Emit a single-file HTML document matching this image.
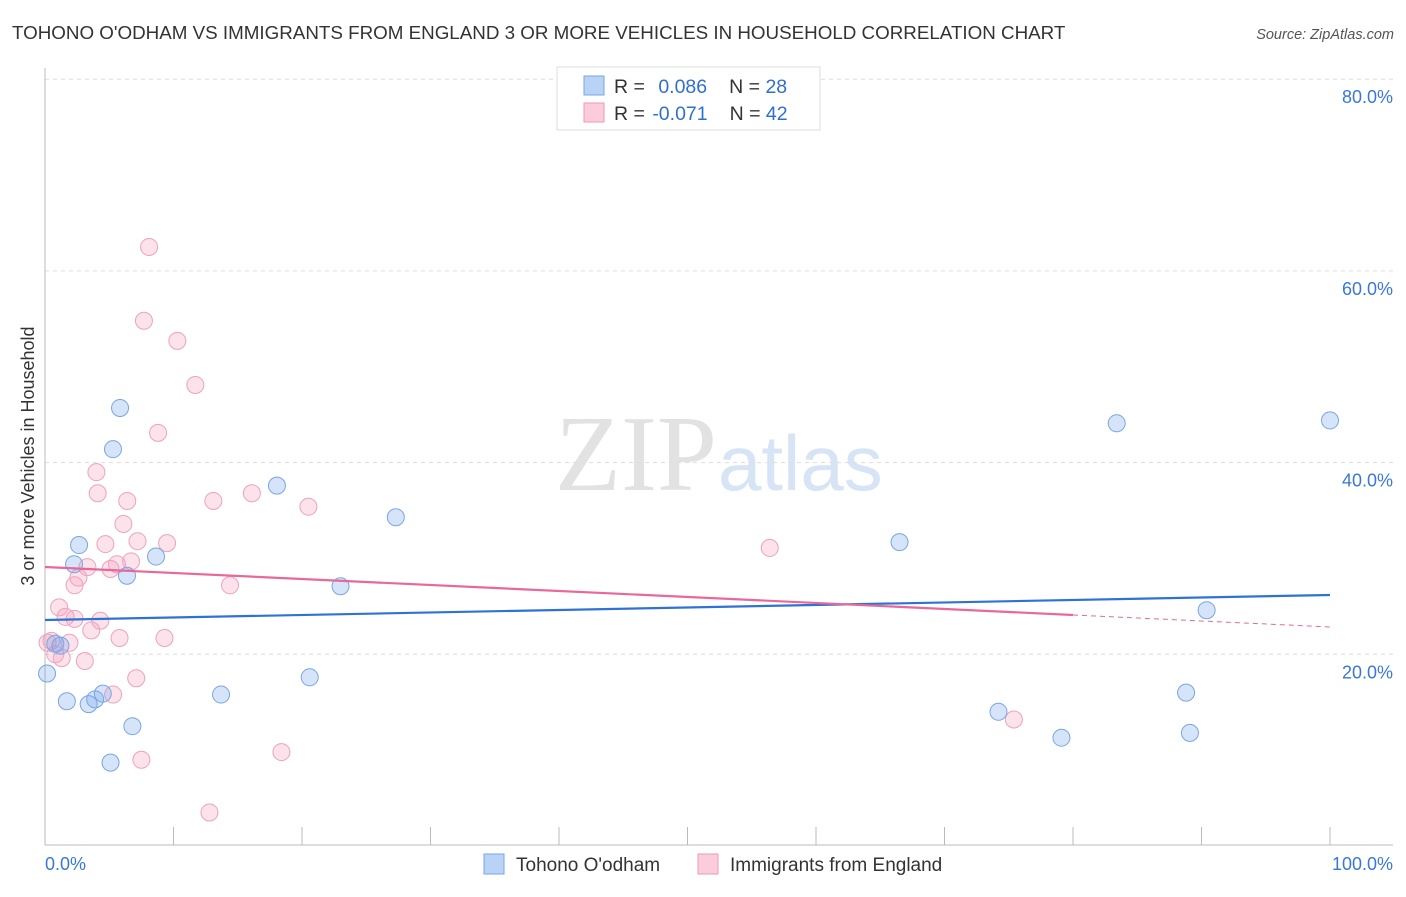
<!DOCTYPE html>
<html><head><meta charset="utf-8"><style>
body{margin:0;background:#fff;font-family:"Liberation Sans",sans-serif}
svg text{font-family:"Liberation Sans",sans-serif}
</style></head><body>
<svg id="c" width="1406" height="892" xmlns="http://www.w3.org/2000/svg">
<text x="12" y="39" font-size="18.8" fill="#333">TOHONO O'ODHAM VS IMMIGRANTS FROM ENGLAND 3 OR MORE VEHICLES IN HOUSEHOLD CORRELATION CHART</text>
<text x="1394" y="39" font-size="14.5" fill="#555" font-style="italic" text-anchor="end">Source: ZipAtlas.com</text>
<text x="555" y="490" font-size="108" fill="#e2e2e2" style="font-family:'Liberation Serif',serif">ZIP</text>
<text x="718" y="490" font-size="78" fill="#d6e4f5">atlas</text>
<text transform="translate(34,456) rotate(-90)" font-size="18" fill="#333" text-anchor="middle">3 or more Vehicles in Household</text>
<g id="grid"></g><g id="pts"></g><g id="trend"></g>
<g>
<rect x="557" y="67" width="263" height="63" fill="#fff" stroke="#ddd"/>
<rect x="584" y="76" width="20" height="19" fill="#b8d3f5" stroke="#7aa6e0"/>
<rect x="584" y="103" width="20" height="19" fill="#fbccd9" stroke="#ee9ab5"/>
<text x="614" y="93" font-size="19.5" fill="#333">R = <tspan fill="#2f6fd0" dx="8">0.086</tspan><tspan fill="#333" dx="22">N = </tspan><tspan fill="#2f6fd0">28</tspan></text>
<text x="614" y="120" font-size="19.5" fill="#333">R = <tspan fill="#2f6fd0" dx="2">-0.071</tspan><tspan fill="#333" dx="22">N = </tspan><tspan fill="#2f6fd0">42</tspan></text>
</g>
<g>
<rect x="484" y="854" width="20" height="20" fill="#b8d3f5" stroke="#7aa6e0"/>
<text x="516" y="871" font-size="19" fill="#333">Tohono O'odham</text>
<rect x="698" y="854" width="20" height="20" fill="#fbccd9" stroke="#ee9ab5"/>
<text x="730" y="871" font-size="19" fill="#333">Immigrants from England</text>
</g>
</svg>
<script>
const blueX=[5.84,5.29,2.65,2.26,6.38,8.64,18.05,27.3,23.0,13.7,20.6,0.16,1.7,3.4,3.9,4.5,6.8,5.1,1.2,0.8,66.5,83.4,100,90.4,74.2,79.1,88.8,89.1];
const blueY=[45.7,41.4,31.4,29.4,28.2,30.2,37.6,34.3,27.1,15.8,17.6,18.0,15.1,14.8,15.3,15.9,12.5,8.7,20.9,21.1,31.7,44.1,44.4,24.6,14.0,11.3,16.0,11.8];
const pinkX=[8.1,7.7,10.3,11.7,8.8,4.0,4.1,6.4,13.1,16.1,20.5,6.1,4.7,7.2,9.5,5.6,6.7,3.3,5.1,2.6,2.3,14.4,1.1,1.6,2.3,4.3,3.6,5.8,9.3,1.9,0.5,0.8,1.3,3.1,7.1,5.3,18.4,7.5,12.8,56.4,75.4,0.2];
const pinkY=[62.5,54.8,52.7,48.1,43.1,39.0,36.8,36.0,36.0,36.8,35.4,33.6,31.5,31.8,31.6,29.4,29.7,29.1,28.9,28.0,27.2,27.2,24.9,23.9,23.7,23.5,22.5,21.7,21.7,21.2,21.4,20.0,19.6,19.3,17.5,15.8,9.8,9.0,3.5,31.1,13.2,21.2];
const blueTrend=[23.58,26.19];
const pinkTrend=[29.11,22.85];
const yTicks=[20,40,60,80];
const yTickLabels=["20.0%","40.0%","60.0%","80.0%"];
const xTicks=[0,10,20,30,40,50,60,70,80,90,100];
const NS="http://www.w3.org/2000/svg";
const sx=v=>45+v*12.85, sy=v=>846-v*9.585;
function mk(t,a,p){const e=document.createElementNS(NS,t);for(const k in a)e.setAttribute(k,a[k]);p.appendChild(e);return e;}
const g=document.getElementById('grid');
yTicks.forEach((v,i)=>{
 const l=mk('line',{x1:45,x2:1393,y1:sy(v),y2:sy(v),stroke:'#ddd','stroke-dasharray':'4,4'},g);
 
 
 const t=mk('text',{x:1393,y:sy(v)+24,'font-size':18,fill:'#3a78d4','text-anchor':'end'},g);t.textContent=yTickLabels[i];
 
 
});
const ya=mk('line',{x1:45,x2:45,y1:68,y2:845,stroke:'#bbb'},g);


const xa=mk('line',{x1:45,x2:1393,y1:845,y2:845,stroke:'#bbb'},g);


xTicks.forEach(v=>{const l=mk('line',{x1:sx(v),x2:sx(v),y1:827,y2:845,stroke:'#bbb'},g);
 
 });
const t0=mk('text',{x:45,y:870,'font-size':18,fill:'#3a78d4'},g);t0.textContent='0.0%';


const t1=mk('text',{x:1393,y:870,'font-size':18,fill:'#3a78d4','text-anchor':'end'},g);t1.textContent='100.0%';


const p=document.getElementById('pts');
pinkX.forEach((x,i)=>{const c=mk('circle',{cx:sx(x),cy:sy(pinkY[i]),r:8.5,fill:'rgba(244,160,188,0.3)',stroke:'#eea2bb','stroke-width':1},p);
 
 });
blueX.forEach((x,i)=>{const c=mk('circle',{cx:sx(x),cy:sy(blueY[i]),r:8.5,fill:'rgba(120,165,235,0.3)',stroke:'#78a6e4','stroke-width':1},p);
 
 });
const tr=document.getElementById('trend');
const bl=mk('line',{x1:sx(0),y1:sy(blueTrend[0]),x2:sx(100),y2:sy(blueTrend[1]),stroke:'#2f72d6','stroke-width':2.2},tr);


const pm=pinkTrend[0]+(pinkTrend[1]-pinkTrend[0])*0.8;
const pl=mk('line',{x1:sx(0),y1:sy(pinkTrend[0]),x2:sx(80),y2:sy(pm),stroke:'#e8689a','stroke-width':2.2},tr);


const pd=mk('line',{x1:sx(80),y1:sy(pm),x2:sx(100),y2:sy(pinkTrend[1]),stroke:'#e8689a','stroke-width':1,'stroke-dasharray':'5,4'},tr);


</script>
</body></html>
